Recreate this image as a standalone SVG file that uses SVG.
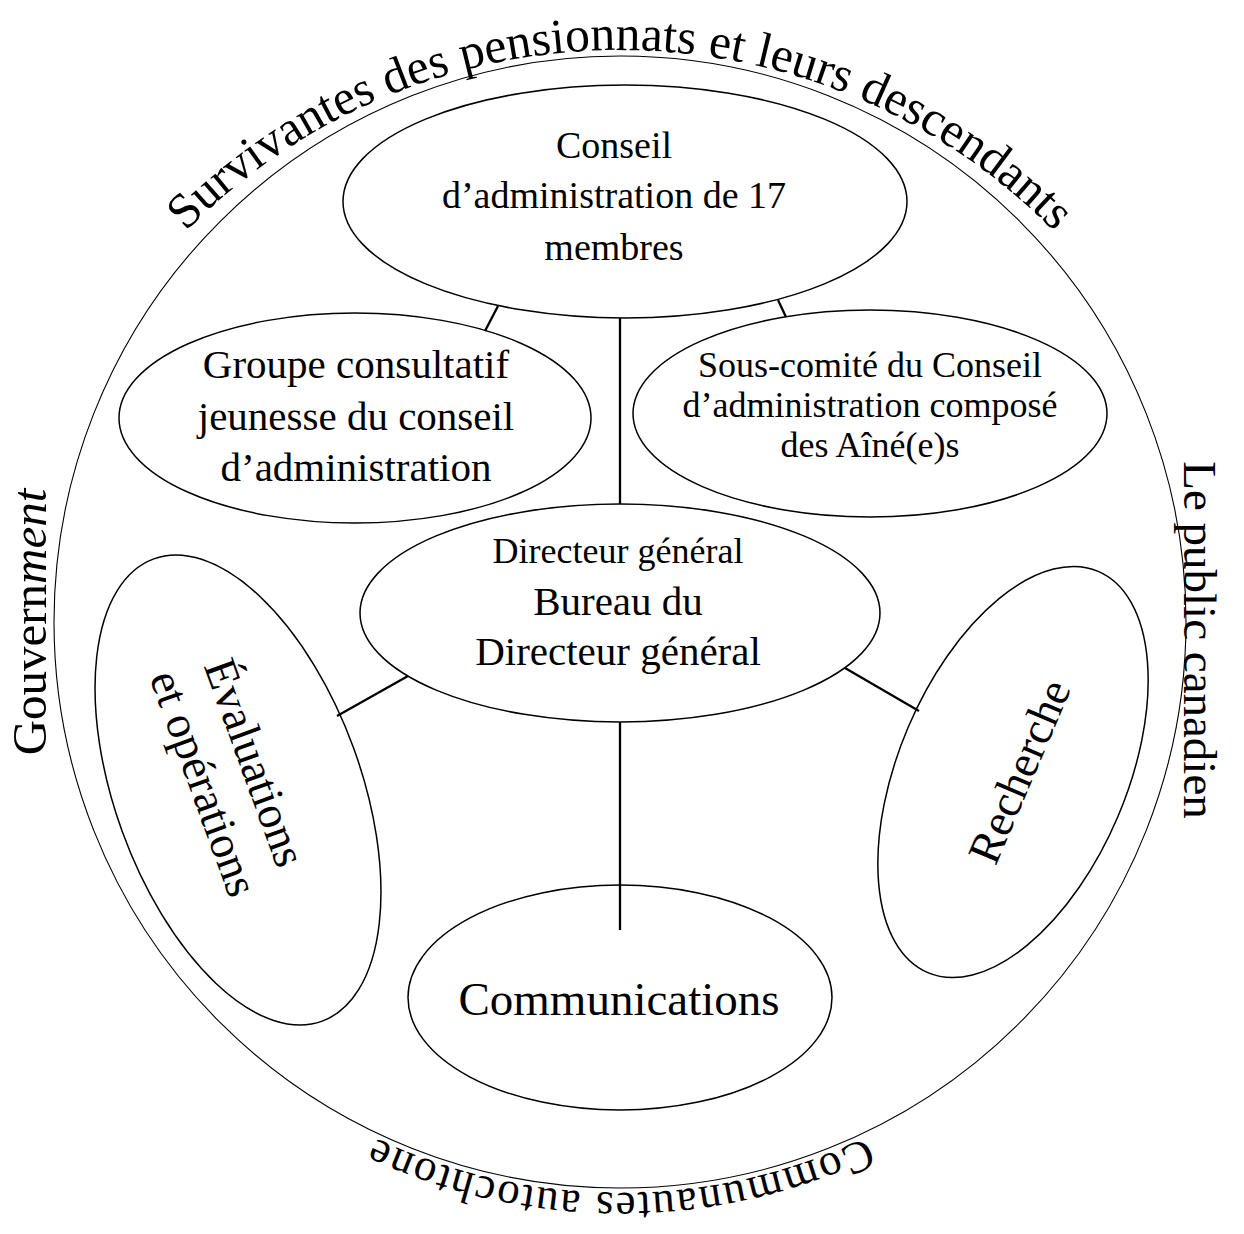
<svg xmlns="http://www.w3.org/2000/svg" width="1244" height="1234" viewBox="0 0 1244 1234">
<style>
  .n{fill:#fff;stroke:#000;stroke-width:1.5}
  .o{fill:none;stroke:#000;stroke-width:1.1}
  #connectors line{stroke:#000;stroke-width:2.3;fill:none}
  text{font-family:"Liberation Serif","Times New Roman",serif;fill:#000}
  .t{text-anchor:middle}
  .arc{font-size:49.5px}
</style>
<defs>
  <path id="arcTop" d="M 10 660 A 610 610 0 0 1 1230 660"/>
  <path id="arcBot" d="M 1191 622 A 571 571 0 0 1 49 622"/>
</defs>
<rect width="1244" height="1234" fill="#fff"/>
<g id="outer">
  <circle class="o" cx="620" cy="622" r="566"/>
  <text class="arc"><textPath href="#arcTop" startOffset="475">Survivantes</textPath></text>
  <text class="arc"><textPath href="#arcTop" startOffset="721">des</textPath></text>
  <text class="arc"><textPath href="#arcTop" startOffset="799.5">pensionnats</textPath></text>
  <text class="arc"><textPath href="#arcTop" startOffset="1045.6">et</textPath></text>
  <text class="arc"><textPath href="#arcTop" startOffset="1093.7">leurs</textPath></text>
  <text class="arc"><textPath href="#arcTop" startOffset="1202.3">descendants</textPath></text>
  <text font-size="45" letter-spacing="1.8"><textPath href="#arcBot" startOffset="50%" text-anchor="middle">Communautes autochtone</textPath></text>
  <text class="t" font-size="49" transform="translate(46,622) rotate(-90)">Gouvern<tspan font-style="italic">ment</tspan></text>
  <text class="t" font-size="47" transform="translate(1184,640) rotate(90)">Le public canadien</text>
</g>
<g id="conseil">
  <ellipse class="n" cx="625" cy="201.5" rx="282" ry="116.5"/>
  <text class="t" font-size="38" x="614" y="158">Conseil</text>
  <text class="t" font-size="38" x="614" y="208">d’administration de 17</text>
  <text class="t" font-size="38" x="614" y="260">membres</text>
</g>
<g id="groupe">
  <ellipse class="n" cx="355" cy="418" rx="236" ry="105"/>
  <text class="t" font-size="41" x="356" y="378">Groupe consultatif</text>
  <text class="t" font-size="41" x="356" y="430">jeunesse du conseil</text>
  <text class="t" font-size="41" x="356" y="481">d’administration</text>
</g>
<g id="souscomite">
  <ellipse class="n" cx="870" cy="413.5" rx="237" ry="103.5"/>
  <text class="t" font-size="36" x="870" y="377">Sous-comité du Conseil</text>
  <text class="t" font-size="36" x="870" y="417">d’administration composé</text>
  <text class="t" font-size="36" x="870" y="457">des Aîné(e)s</text>
</g>
<g id="directeur">
  <ellipse class="n" cx="620" cy="613" rx="260" ry="109"/>
  <text class="t" font-size="36" x="618" y="563">Directeur général</text>
  <text class="t" font-size="41" x="618" y="615">Bureau du</text>
  <text class="t" font-size="41" x="618" y="665">Directeur général</text>
</g>
<g id="evaluations" transform="translate(238,790) rotate(70)">
  <ellipse class="n" cx="0" cy="0" rx="246" ry="123"/>
  <text class="t" font-size="46" x="-20" y="-10">Évaluations</text>
  <text class="t" font-size="46" x="-18" y="45">et opérations</text>
</g>
<g id="recherche" transform="translate(1013,772) rotate(-67)">
  <ellipse class="n" cx="0" cy="0" rx="218" ry="114"/>
  <text class="t" font-size="46" x="3" y="21">Recherche</text>
</g>
<g id="communications">
  <ellipse class="n" cx="620" cy="997.5" rx="212" ry="112.5"/>
  <text class="t" font-size="47" x="619" y="1015">Communications</text>
</g>
<g id="connectors">
  <line x1="498" y1="306" x2="485" y2="331"/>
  <line x1="778" y1="300" x2="786" y2="317"/>
  <line x1="620" y1="318" x2="620" y2="504"/>
  <line x1="408" y1="676" x2="337" y2="716"/>
  <line x1="845" y1="668" x2="919" y2="711"/>
  <line x1="620" y1="722" x2="620" y2="930"/>
</g>
</svg>
